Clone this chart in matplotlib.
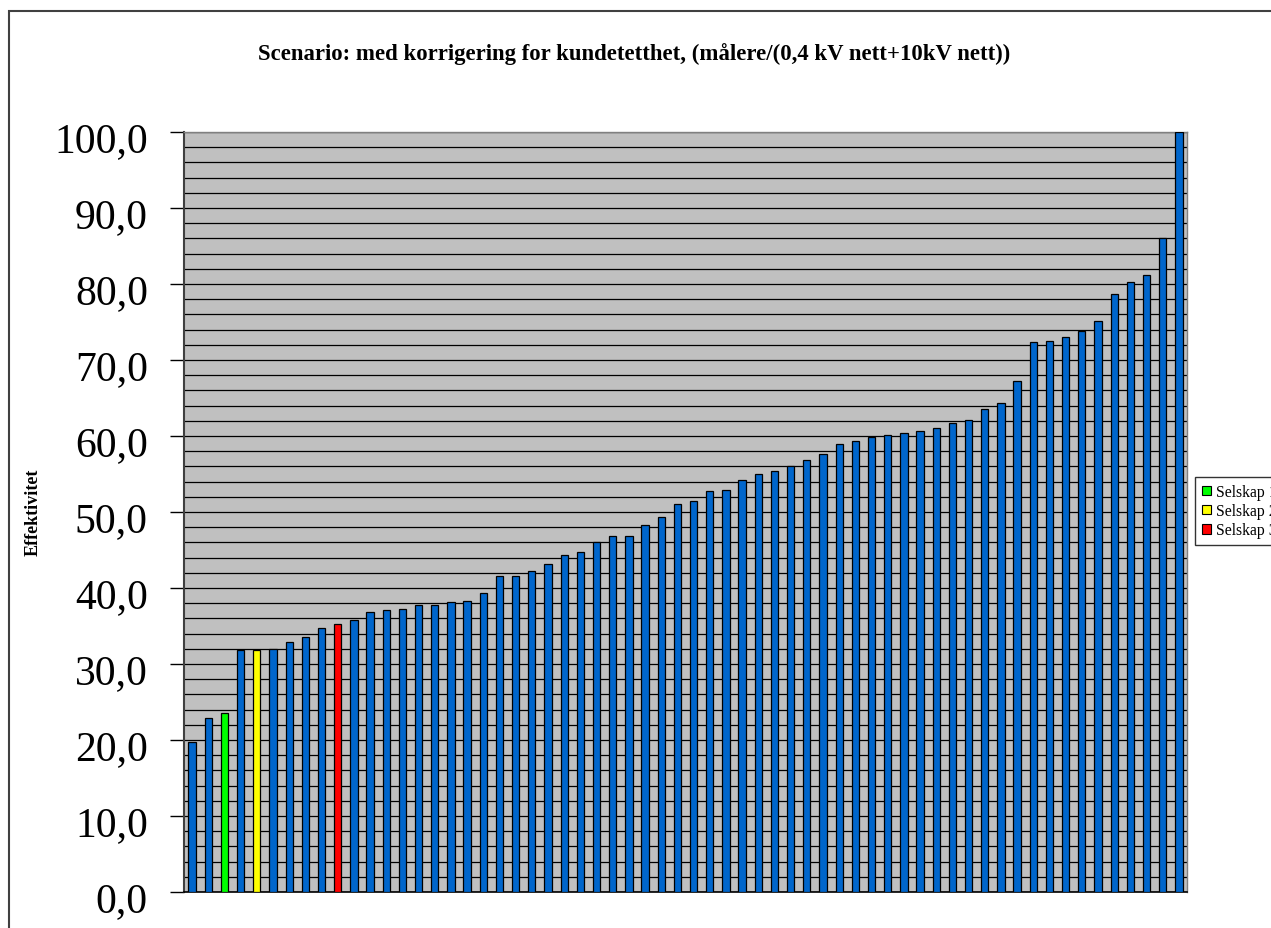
# Efficiency per company, sorted, with three highlighted companies
import matplotlib.pyplot as plt
from matplotlib.patches import Patch, Rectangle
from matplotlib.transforms import ScaledTranslation
import numpy as np

plt.rcParams['font.family'] = ['Liberation Serif', 'DejaVu Serif']

effektivitet = [
    19.8, 22.9, 23.6, 31.8, 31.9, 32.0, 32.9, 33.6, 34.8, 35.3,
    35.8, 36.9, 37.1, 37.3, 37.7, 37.7, 38.1, 38.3, 39.3, 41.6,
    41.6, 42.3, 43.2, 44.4, 44.8, 46.1, 46.8, 46.9, 48.3, 49.3,
    51.0, 51.5, 52.8, 52.9, 54.2, 55.0, 55.4, 56.0, 56.9, 57.6,
    59.0, 59.3, 59.9, 60.1, 60.4, 60.7, 61.1, 61.7, 62.1, 63.6,
    64.4, 67.3, 72.4, 72.5, 73.0, 73.8, 75.1, 78.7, 80.3, 81.2,
    86.1, 100.0,
]
selskap_navn = ["Selskap 1", "Selskap 2", "Selskap 3"]
selskap_pos = [2, 4, 9]
selskap_farge = ["#00FF00", "#FFFF00", "#FF0000"]
standard_farge = "#0066CC"

colors = [standard_farge] * len(effektivitet)
for pos, farge in zip(selskap_pos, selskap_farge):
    colors[pos] = farge

fig = plt.figure(figsize=(12.71, 9.29), dpi=100)
ax = fig.add_axes([184 / 1271, 1 - 893 / 929, (1187 - 184) / 1271, (893 - 133) / 929])

x = np.arange(len(effektivitet))
ax.bar(x, effektivitet, width=0.45, color=colors, edgecolor="black", linewidth=0.9, zorder=3)

ax.set_facecolor("#C0C0C0")
ax.set_xlim(-0.5, len(effektivitet) - 0.5)
ax.set_ylim(0, 100)
ax.set_yticks(np.arange(0, 101, 10))
ax.set_yticklabels([f"{v:.1f}".replace(".", ",") for v in range(0, 101, 10)], fontsize=30)
ax.set_yticks(np.arange(0, 101, 2), minor=True)
ax.tick_params(axis="y", which="major", direction="out", length=10, width=1, pad=16)
ax.tick_params(axis="y", which="minor", length=0)
ax.set_xticks([])
ax.grid(axis="y", which="both", color="black", linewidth=0.9, zorder=1)
ax.set_axisbelow(True)

# nudge the tick labels slightly below their ticks
offset = ScaledTranslation(0, -3 / 72, fig.dpi_scale_trans)
for lbl in ax.get_yticklabels():
    lbl.set_transform(lbl.get_transform() + offset)

for side in ["top", "right"]:
    ax.spines[side].set_color("#808080")
    ax.spines[side].set_linewidth(1)
ax.spines["left"].set_color("#404040")
ax.spines["left"].set_linewidth(1.5)
ax.spines["bottom"].set_color("black")
ax.spines["bottom"].set_linewidth(1.2)

fig.text(33 / 1271, 1 - 512 / 929, "Effektivitet", rotation=90, fontsize=13,
         fontweight="bold", ha="center", va="center")
fig.text(634 / 1271, 1 - 54 / 929,
         "Scenario: med korrigering for kundetetthet, (målere/(0,4 kV nett+10kV nett))",
         fontsize=16.4, fontweight="bold", ha="center", va="center")

handles = [Patch(facecolor=f, edgecolor="black", linewidth=0.8) for f in selskap_farge]
fig.legend(handles, selskap_navn, loc="upper left",
           bbox_to_anchor=(1195 / 1271, 1 - 478 / 929), fontsize=11.3,
           frameon=True, fancybox=False, edgecolor="black",
           handlelength=0.55, handleheight=0.55, handletextpad=0.35,
           labelspacing=0.2, borderpad=0.45, borderaxespad=0)

# frame around the whole chart area
fig.patches.append(Rectangle((9 / 1271, -0.1), 1.2, 1 - 12 / 929 + 0.1,
                             transform=fig.transFigure, fill=False,
                             edgecolor="#404040", linewidth=1.5))

plt.savefig("out.png")
